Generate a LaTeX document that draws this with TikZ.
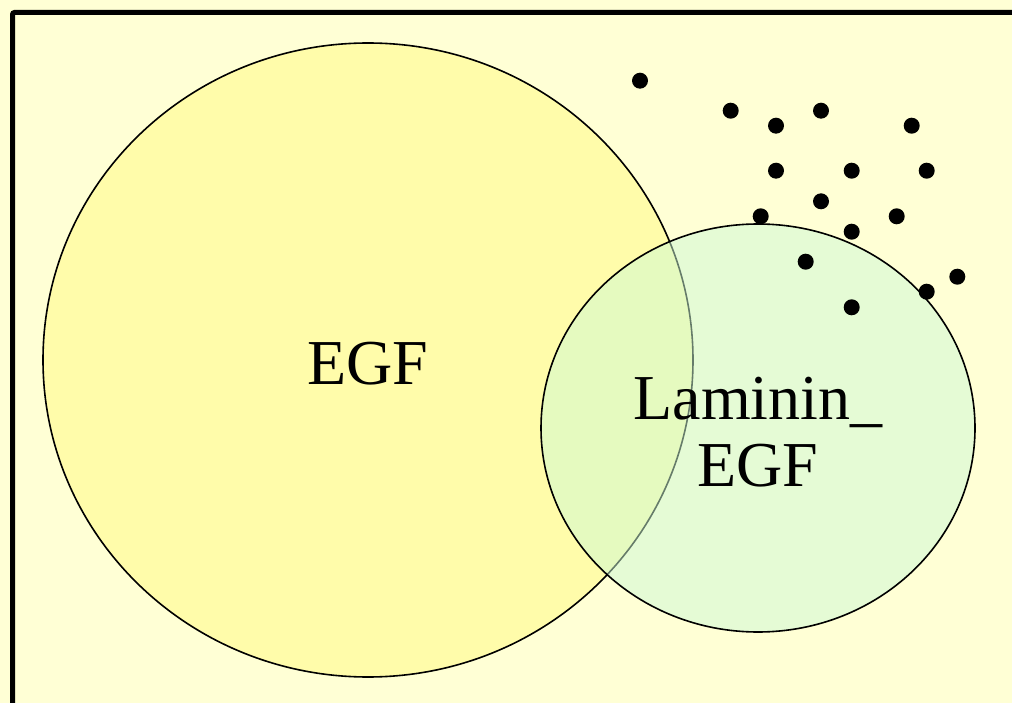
\documentclass[tikz,border=0pt]{standalone}
\usepackage{fontspec}
\setmainfont{Liberation Serif}
\usetikzlibrary{shapes.geometric}
\definecolor{bgyellow}{RGB}{255,255,213}
\definecolor{egfyellow}{RGB}{255,252,170}
\definecolor{lamgreen}{RGB}{205,249,213}
\tikzset{
  setcircle/.style={ellipse, draw=black, line width=1.6pt, inner sep=0pt},
  setlabel/.style={inner sep=0pt, font=\fontsize{64}{67}\selectfont, align=center},
  dotmark/.style={circle, fill=black, inner sep=0pt, minimum size=16pt}
}
\begin{document}
\begin{tikzpicture}[x=1pt,y=-1pt]
\useasboundingbox (0,0) rectangle (1012,703);
\clip (0,0) rectangle (1012,703);
\fill[bgyellow] (0,0) rectangle (1012,703);
\draw[line width=5pt, rounded corners=2pt] (12.5,12.5) rectangle (1040,740);
\node[setcircle, fill=egfyellow, minimum width=650pt, minimum height=634pt] (egf) at (368,360) {};
\node[setcircle, fill=lamgreen, fill opacity=0.5, minimum width=434pt, minimum height=408pt] (lam) at (758,428) {};
\node[setlabel] (egftext) at ([yshift=-4pt]egf.center) {EGF};
\node[setlabel] (lamtext) at ([yshift=-4pt]lam.center) {Laminin\_\\EGF};
\node[dotmark] (d1) at (640,80.7) {};
\node[dotmark] (d2) at (730.7,110.7) {};
\node[dotmark] (d3) at (776,125.7) {};
\node[dotmark] (d4) at (821,110.7) {};
\node[dotmark] (d5) at (911.7,125.7) {};
\node[dotmark] (d6) at (776,170.7) {};
\node[dotmark] (d7) at (851.7,170.7) {};
\node[dotmark] (d8) at (926.7,170.7) {};
\node[dotmark] (d9) at (821,201.3) {};
\node[dotmark] (d10) at (760.7,216.3) {};
\node[dotmark] (d11) at (896.7,216.3) {};
\node[dotmark] (d12) at (851.7,231.7) {};
\node[dotmark] (d13) at (805.7,261.7) {};
\node[dotmark] (d14) at (957.3,276.7) {};
\node[dotmark] (d15) at (926.7,291.7) {};
\node[dotmark] (d16) at (851.7,307.3) {};
\end{tikzpicture}
\end{document}
